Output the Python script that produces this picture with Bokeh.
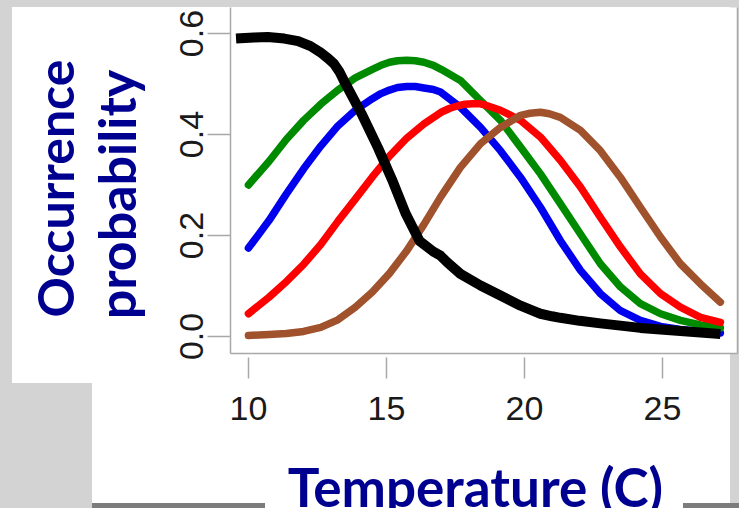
from bokeh.plotting import figure
from bokeh.models import Range1d, Label, LinearAxis, FixedTicker, PrintfTickFormatter
from bokeh.layouts import row, column
from bokeh.embed import file_html
from bokeh.resources import INLINE

# ---------------- data ----------------
temp_ticks = [10, 15, 20, 25]
prob_ticks = [0.0, 0.2, 0.4, 0.6]

green_x = [10.0, 10.75, 11.37, 12.0, 12.62, 13.24, 13.87, 14.49, 14.8, 15.11, 15.4, 15.74, 16.05, 16.36,
           16.7, 16.98, 17.68, 18.41, 19.13, 19.86, 20.58, 21.30, 22.03, 22.75, 23.48, 24.20, 24.93,
           25.65, 26.38, 27.10]
green_y = [0.300, 0.347, 0.390, 0.428, 0.460, 0.488, 0.512, 0.529, 0.537, 0.543, 0.546, 0.547, 0.546, 0.543,
           0.537, 0.529, 0.507, 0.467, 0.428, 0.375, 0.322, 0.263, 0.203, 0.144, 0.098, 0.065, 0.045,
           0.032, 0.023, 0.017]

blue_x = [10.0, 10.75, 11.37, 12.0, 12.62, 13.24, 13.87, 14.49, 14.8, 15.11, 15.4, 15.74, 16.05, 16.36,
          16.7, 16.96, 17.68, 18.41, 19.13, 19.86, 20.58, 21.30, 22.03, 22.75, 23.48, 24.20, 24.93,
          25.65, 26.38, 27.10]
blue_y = [0.175, 0.230, 0.282, 0.332, 0.377, 0.417, 0.448, 0.471, 0.481, 0.488, 0.493, 0.495, 0.495, 0.492,
          0.489, 0.484, 0.454, 0.414, 0.368, 0.315, 0.256, 0.190, 0.131, 0.085, 0.051, 0.032, 0.020,
          0.014, 0.010, 0.007]

red_x = [10.0, 10.75, 11.4, 12.0, 12.62, 13.24, 13.87, 14.49, 15.11, 15.74, 16.36, 16.98, 17.3, 17.6,
         17.85, 18.1, 18.35, 18.6, 19.13, 19.86, 20.58, 21.30, 22.03, 22.75, 23.48, 24.20, 24.93,
         25.65, 26.38, 27.10]
red_y = [0.045, 0.078, 0.110, 0.143, 0.182, 0.228, 0.272, 0.316, 0.357, 0.393, 0.421, 0.444, 0.452, 0.457,
         0.460, 0.461, 0.461, 0.458, 0.448, 0.428, 0.395, 0.349, 0.296, 0.236, 0.177, 0.124, 0.085,
         0.058, 0.038, 0.028]

brown_x = [10.0, 10.75, 11.37, 12.0, 12.62, 13.24, 13.87, 14.49, 15.11, 15.74, 16.36, 16.96, 17.68,
           18.41, 19.13, 19.86, 20.2, 20.58, 20.9, 21.30, 22.03, 22.75, 23.48, 24.20, 24.93, 25.65,
           26.38, 27.10]
brown_y = [0.002, 0.004, 0.006, 0.010, 0.018, 0.033, 0.058, 0.088, 0.125, 0.170, 0.222, 0.276, 0.335,
           0.382, 0.414, 0.438, 0.442, 0.444, 0.441, 0.434, 0.408, 0.368, 0.315, 0.256, 0.197, 0.144,
           0.104, 0.068]

black_x = [9.55, 10.2, 10.7, 11.3, 11.8, 12.25, 12.6, 12.9, 13.1, 13.3, 13.5, 14.1, 14.7, 15.2, 15.7,
           16.2, 16.7, 16.96, 17.2, 17.68, 18.41, 19.13, 19.86, 20.3, 20.58, 21.0, 21.30, 22.0, 22.75,
           24.20, 25.65, 27.10]
black_y = [0.590, 0.592, 0.593, 0.590, 0.585, 0.575, 0.563, 0.550, 0.540, 0.524, 0.502, 0.441, 0.373,
           0.311, 0.243, 0.189, 0.168, 0.160, 0.147, 0.124, 0.101, 0.081, 0.061, 0.051, 0.045, 0.040,
           0.037, 0.031, 0.026, 0.017, 0.011, 0.005]

x_title = "Temperature (C)"
y_title_1 = "Occurrence"
y_title_2 = "probability"

# ---------------- styling ----------------
NAVY = "#000090"
AXIS = "#a8a8a8"
GREY = "#d3d3d3"
DARK = "#7c7c7c"
W, H = 739, 508
LEFT_W = 160          # width of the strip that holds the rotated y title
TOP_H = 455           # height of the chart row (x title strip below it)
BOT_H = H - TOP_H

# slide background: white panels on a light grey backdrop (x, y, w, h, colour), page pixels
rects = [(12, 7, 228, 376, "#ffffff"), (92, 7, 638, 496, "#ffffff"), (265, 455, 418, 53, "#ffffff"),
         (92, 503, 173, 5, DARK), (683, 503, 56, 5, DARK)]
bg_images = ", ".join(f"linear-gradient({c}, {c})" for *_, c in rects)
bg_pos = ", ".join(f"{x}px {y}px" for x, y, w, h, c in rects)
bg_size = ", ".join(f"{w}px {h}px" for x, y, w, h, c in rects)

# ---------------- main chart ----------------
p = figure(width=W - LEFT_W, height=TOP_H, output_backend="svg", toolbar_location=None,
           x_range=Range1d(9.35, 27.72), y_range=Range1d(-0.0337, 0.6515),
           min_border_left=230 - LEFT_W, min_border_right=2, min_border_top=7,
           min_border_bottom=TOP_H - 353)
p.border_fill_color = None
p.background_fill_color = "white"
p.outline_line_color = None
p.grid.visible = False

tick_font = "Liberation Sans"

xa = p.xaxis[0]
xa.ticker = FixedTicker(ticks=temp_ticks)
xa.axis_line_color = AXIS
xa.axis_line_width = 1.5
xa.major_tick_line_color = AXIS
xa.major_tick_line_width = 1.5
xa.major_tick_out = 25
xa.major_tick_in = -4
xa.minor_tick_line_color = None
xa.major_label_text_font = tick_font
xa.major_label_text_font_size = "34px"
xa.major_label_text_color = "#1a1a1a"
xa.major_label_standoff = 18

ya = p.yaxis[0]
ya.ticker = FixedTicker(ticks=prob_ticks)
ya.formatter = PrintfTickFormatter(format="%.1f")
ya.axis_line_color = AXIS
ya.axis_line_width = 1.5
ya.major_tick_line_color = AXIS
ya.major_tick_line_width = 1.5
ya.major_tick_out = 23
ya.major_tick_in = 0
ya.minor_tick_line_color = None
ya.major_label_orientation = "vertical"
ya.major_label_text_font = tick_font
ya.major_label_text_font_size = "34px"
ya.major_label_text_color = "#1a1a1a"
ya.major_label_standoff = 4

ra = LinearAxis(ticker=FixedTicker(ticks=[]), axis_line_color=AXIS, axis_line_width=1.5,
                major_tick_out=0, major_tick_in=0, minor_tick_out=0, minor_tick_in=0,
                major_label_text_font_size="0px", major_label_standoff=0)
p.add_layout(ra, "right")

p.line(blue_x, blue_y, line_color="#0000ee", line_width=7.5, line_cap="round", line_join="round")
p.line(green_x, green_y, line_color="#008a00", line_width=7.5, line_cap="round", line_join="round")
p.line(red_x, red_y, line_color="#ff0000", line_width=7.5, line_cap="round", line_join="round")
p.line(brown_x, brown_y, line_color="#a0522d", line_width=7.5, line_cap="round", line_join="round")
p.line(black_x, black_y, line_color="black", line_width=10, line_cap="butt", line_join="round")

# ---------------- title strips (pixel-based ranges, y upwards) ----------------
def strip(width, height):
    f = figure(width=width, height=height, output_backend="svg", toolbar_location=None,
               x_axis_type=None, y_axis_type=None,
               x_range=Range1d(0, width), y_range=Range1d(0, height),
               min_border=0, min_border_left=0, min_border_right=0, min_border_top=0, min_border_bottom=0)
    f.grid.visible = False
    f.outline_line_color = None
    f.border_fill_color = None
    f.background_fill_color = None
    return f

common = dict(text_font="Lato", text_font_style="bold", text_color=NAVY,
              text_align="center", text_baseline="alphabetic")

left = strip(LEFT_W, TOP_H)
left.add_layout(Label(x=54, y=217, text=y_title_1, angle=90, angle_units="deg",
                      text_font_size="50px", **common))
left.add_layout(Label(x=115, y=209, text=y_title_2, angle=90, angle_units="deg",
                      text_font_size="52px", **common))

bottom = strip(W, BOT_H)
bottom.add_layout(Label(x=475, y=22, text=x_title, text_font_size="53px", **common))

layout = column(row(left, p), bottom)
layout.styles = {"background-color": GREY, "background-image": bg_images,
                 "background-position": bg_pos, "background-size": bg_size,
                 "background-repeat": "no-repeat"}

open("out.html", "w").write(file_html(layout, INLINE))
